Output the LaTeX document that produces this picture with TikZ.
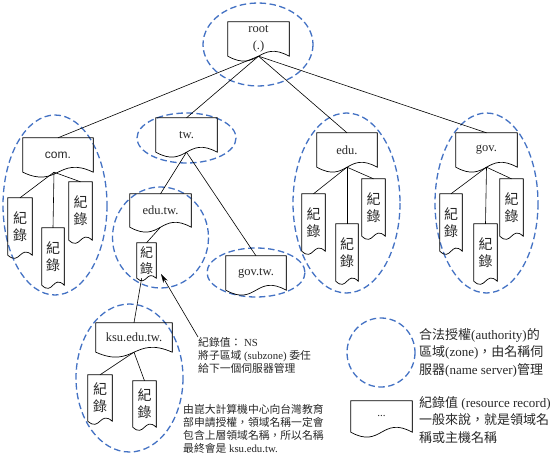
\documentclass[tikz,border=0pt]{standalone}
\usepackage{fontspec}
\setmainfont{Liberation Serif}
\setsansfont{Liberation Sans}
\newfontfamily\cjk{Noto Sans CJK TC}
\usetikzlibrary{calc,arrows.meta}
\newcommand{\zh}[1]{{\cjk #1}}
\definecolor{zoneblue}{RGB}{68,114,196}
\definecolor{txtgray}{RGB}{40,40,40}
\newcommand{\docnode}[8]{% name, cx, cy, w, h, wave, font, content
  \node[docbox, font=#7, minimum width=#4pt, minimum height=#5pt] (#1) at (#2,#3) {#8};
  \draw[docline] (#1.north east) -- (#1.north west) -- (#1.south west)
    .. controls ($(#1.south)+(0pt,-#6pt)$) and ($(#1.south)+(0pt,#6pt)$) .. (#1.south east) -- cycle;
  \draw[docedge] (#1.north east) -- (#1.south east);}
\begin{document}
\begin{tikzpicture}[x=1pt,y=-1pt,
  docbox/.style={inner sep=0pt, align=center, text=txtgray},
  docline/.style={draw=black, line width=0.7pt, line join=miter},
  docedge/.style={draw=black!80, line width=1.3pt},
  zone/.style={draw=zoneblue, line width=1.3pt, dash pattern=on 6.5pt off 3.5pt},
  conn/.style={draw=black, line width=0.6pt},
  note/.style={inner sep=0pt, align=left, anchor=north west, text=txtgray, font=\fontsize{10.8}{13}\selectfont},
  legtext/.style={inner sep=0pt, align=left, anchor=north west, text=txtgray, font=\fontsize{13}{17.3}\selectfont}]
\useasboundingbox (0,0) rectangle (554,460);
\fill[white] (0,0) rectangle (554,460);

% zones
\draw[zone] (258,44.5) ellipse [x radius=55, y radius=41.5];
\draw[zone] (55,205) ellipse [x radius=52, y radius=90];
\draw[zone] (186.5,138) ellipse [x radius=49.5, y radius=25];
\draw[zone] (160.5,237.5) ellipse [x radius=48, y radius=50.5];
\draw[zone] (256,272.5) ellipse [x radius=49, y radius=24.5];
\draw[zone] (346.5,203) ellipse [x radius=53.5, y radius=90];
\draw[zone] (486.5,203) ellipse [x radius=51.5, y radius=90];
\draw[zone] (129.5,378) ellipse [x radius=53.5, y radius=74];
\draw[zone] (381,352.5) ellipse [x radius=34, y radius=34.5];

% domain nodes
\docnode{root}{258.5}{39}{61}{34}{17}{\fontsize{12.5}{17}\selectfont}{root\\(.)}
\docnode{com}{58}{155}{70}{34}{17}{\fontsize{12}{14}\selectfont\sffamily}{com.}
\docnode{tw}{186.5}{135}{61}{34}{17}{\fontsize{12.5}{14}\selectfont}{tw.}
\docnode{edu}{347}{150}{60}{34}{17}{\fontsize{12.5}{14}\selectfont}{edu.}
\docnode{gov}{486.5}{150}{61}{34}{17}{\fontsize{12.5}{14}\selectfont}{gov.}
\docnode{edutw}{160.5}{210.5}{61}{33}{17}{\fontsize{12.5}{14}\selectfont}{edu.tw.}
\docnode{govtw}{256}{273}{60}{34}{17}{\fontsize{12.5}{14}\selectfont}{gov.tw.}
\docnode{ksu}{134}{337.5}{76}{29}{17}{\fontsize{12.5}{14}\selectfont}{ksu.edu.tw.}

% records
\docnode{comA}{20}{226.5}{24}{57}{11}{\fontsize{14}{17}\selectfont\cjk}{紀\\錄}
\docnode{comB}{53}{256.5}{22}{57}{11}{\fontsize{14}{17}\selectfont\cjk}{紀\\錄}
\docnode{comC}{80.5}{211}{23}{58}{11}{\fontsize{14}{17}\selectfont\cjk}{紀\\錄}
\docnode{eduA}{313.5}{222.5}{23}{57}{11}{\fontsize{14}{17}\selectfont\cjk}{紀\\錄}
\docnode{eduB}{347}{252.5}{22}{57}{11}{\fontsize{14}{17}\selectfont\cjk}{紀\\錄}
\docnode{eduC}{373.5}{207.5}{23}{57}{11}{\fontsize{14}{17}\selectfont\cjk}{紀\\錄}
\docnode{govA}{451}{222.5}{22}{57}{11}{\fontsize{14}{17}\selectfont\cjk}{紀\\錄}
\docnode{govB}{485.5}{252.5}{23}{57}{11}{\fontsize{14}{17}\selectfont\cjk}{紀\\錄}
\docnode{govC}{511.5}{207.5}{23}{57}{11}{\fontsize{14}{17}\selectfont\cjk}{紀\\錄}
\docnode{etrec}{146.5}{260.5}{19}{35}{9}{\fontsize{13}{16}\selectfont\cjk}{紀\\錄}
\docnode{ksuA}{100}{398}{24}{46}{11}{\fontsize{14}{17}\selectfont\cjk}{紀\\錄}
\docnode{ksuB}{144.5}{404}{23}{46}{11}{\fontsize{14}{17}\selectfont\cjk}{紀\\錄}

% legend record
\docnode{legdoc}{381.5}{416.5}{61}{31}{17}{\fontsize{11}{13}\selectfont}{...}

% connectors
\draw[conn] (root.south) -- (com.north);
\draw[conn] (root.south) -- (tw.north);
\draw[conn] (root.south) -- (edu.north);
\draw[conn] (root.south) -- (gov.north);
\coordinate (comorg) at ($(com.south)+(-4pt,0pt)$);
\draw[conn] (comorg) -- (comA.north);
\draw[conn] (comorg) -- (comB.north);
\draw[conn] (comorg) -- (comC.north);
\draw[conn] (edu.south) -- (eduA.north);
\draw[conn] (edu.south) -- (eduB.north);
\draw[conn] (edu.south) -- (eduC.north);
\draw[conn] (gov.south) -- (govA.north);
\draw[conn] (gov.south) -- (govB.north);
\draw[conn] (gov.south) -- (govC.north);
\draw[conn] (tw.south) -- (edutw.north);
\draw[conn] (tw.south) -- (govtw.north);
\draw[conn] (edutw.south) -- (etrec.north);
\draw[conn] ($(etrec.south west)!0.25!(etrec.south east)$) -- (ksu.north);
\draw[conn] (ksu.south) -- (ksuA.north);
\draw[conn] (ksu.south) -- (ksuB.north);

% notes
\node[note] (note1) at (198,337) {\zh{紀錄值：} NS\\\zh{將子區域} (subzone) \zh{委任}\\\zh{給下一個伺服器管理}};
\coordinate (arrtip) at (161,274);
\draw[conn, -{Stealth[length=9pt,width=5pt]}] (note1.north west) -- (arrtip);
\node[note] (note2) at (183,404) {\zh{由崑大計算機中心向台灣教育}\\\zh{部申請授權，領域名稱一定會}\\\zh{包含上層領域名稱，所以名稱}\\\zh{最終會是} ksu.edu.tw.};

% legend texts
\node[legtext] (leg1) at (419,328.5) {\zh{合法授權}(authority)\zh{的}\\\zh{區域}(zone)\zh{，由名稱伺}\\\zh{服器}(name server)\zh{管理}};
\node[legtext] (leg2) at (419,396.5) {\zh{紀錄值} (resource record)\\\zh{一般來說，就是領域名}\\\zh{稱或主機名稱}};
\end{tikzpicture}
\end{document}
